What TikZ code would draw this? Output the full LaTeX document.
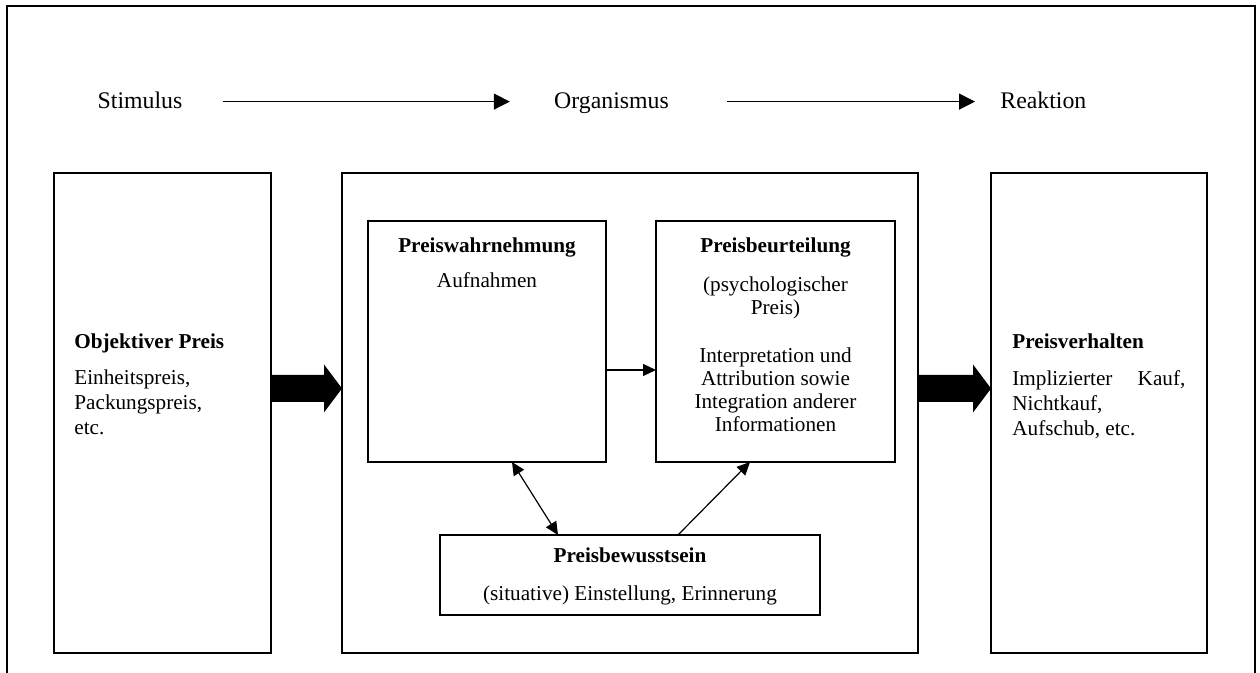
\documentclass[tikz,border=0pt]{standalone}
\usepackage{fontspec}
\setmainfont{Liberation Serif}
\usetikzlibrary{arrows.meta,calc}
\newcommand\bxfont{\fontsize{10.6pt}{12.5pt}\selectfont}
\newcommand\lblfont{\fontsize{11.9pt}{14pt}\selectfont}

\begin{document}
\begin{tikzpicture}[x=0.5pt,y=-0.5pt,
  outerframe/.style={line width=0.8pt},
  panel/.style={draw, line width=0.65pt, inner sep=0pt, outer sep=0pt},
  stagelbl/.style={font=\lblfont, inner sep=0pt, anchor=base},
  headtxt/.style={font=\bxfont\bfseries, inner sep=0pt, anchor=base},
  bodytxt/.style={font=\bxfont, inner sep=0pt, anchor=base},
  flow/.style={line width=0.65pt, -{Triangle[length=8pt,width=8pt]}},
  link/.style={line width=0.6pt, -{Triangle[length=6.5pt,width=6pt]}},
  twoway/.style={line width=0.6pt, {Triangle[length=6.5pt,width=6pt]}-{Triangle[length=6.5pt,width=6pt]}},
  blockarrow/.style={fill=black}]

\useasboundingbox (0,0) rectangle (1260,673);

% open outer frame
\draw[outerframe] (7,673) -- (7,6) -- (1255,6) -- (1255,673);

% stage labels and arrows
\node[stagelbl] (stim) at (140,109) {Stimulus};
\node[stagelbl] (org) at (611.5,109) {Organismus};
\node[stagelbl, anchor=base west] (reak) at (1000,109) {Reaktion};
\draw[flow, shorten <=20pt, shorten >=22pt] ([yshift=3.7pt]stim.base east) -- ([yshift=3.7pt]org.base west);
\draw[flow, shorten <=29pt, shorten >=12.5pt] ([yshift=3.7pt]org.base east) -- ([yshift=3.7pt]reak.base west);

% main panels
\node[panel, minimum width=108.5pt, minimum height=240pt] (lbox) at (162.5,413) {};
\node[panel, minimum width=288pt, minimum height=240pt] (mbox) at (630,413) {};
\node[panel, minimum width=108pt, minimum height=240pt] (rbox) at (1099,413) {};

% inner panels
\node[panel, minimum width=119pt, minimum height=120.5pt] (pw) at (487,341.5) {};
\node[panel, minimum width=119.5pt, minimum height=120.5pt] (pb) at (775.5,341.5) {};
\node[panel, minimum width=190pt, minimum height=40pt] (pbw) at (630,575) {};

% left panel text
\node[headtxt, anchor=base west] (objt) at (74,349) {Objektiver Preis};
\node[bodytxt, anchor=base west] (objb) at (74,385) {\parbox[t]{100pt}{\raggedright\fontsize{10.6pt}{12.5pt}\selectfont Einheitspreis,\\Packungspreis,\\etc.}};

% right panel text
\node[headtxt, anchor=base west] (verht) at (1012,349) {Preisverhalten};
\node[bodytxt, anchor=base west] (verhb) at (1012,386) {\parbox[t]{90pt}{\raggedright\fontsize{10.6pt}{12.5pt}\selectfont \makebox[86.5pt][s]{Implizierter Kauf,}\\Nichtkauf,\\Aufschub, etc.}};

% Preiswahrnehmung
\node[headtxt] (pwt) at (487,253) {Preiswahrnehmung};
\node[bodytxt] (pwb) at (487,288) {Aufnahmen};

% Preisbeurteilung
\node[headtxt] (pbt) at (775.5,253) {Preisbeurteilung};
\node[bodytxt] (pbb1) at (775.5,292) {\parbox[t]{118pt}{\centering\fontsize{10.6pt}{11.5pt}\selectfont (psychologischer\\Preis)}};
\node[bodytxt] (pbb2) at (775.5,363) {\parbox[t]{118pt}{\centering\fontsize{10.6pt}{11.4pt}\selectfont Interpretation und\\Attribution sowie\\Integration anderer\\Informationen}};

% Preisbewusstsein
\node[headtxt] (pbwt) at (630,563) {Preisbewusstsein};
\node[bodytxt] (pbwb) at (630,601) {(situative) Einstellung, Erinnerung};

% connectors inside the organism panel
\draw[link] ([yshift=-14.25pt]pw.east) -- ([yshift=-14.25pt]pb.west);
\draw[twoway] ([xshift=12.5pt]pw.south) -- ([xshift=-36pt]pbw.north);
\draw[link] ([xshift=24pt]pbw.north) -- ([xshift=-12.75pt]pb.south);

% block arrows between the panels
\coordinate (ba1) at ($(lbox.east)+(0,-24.5)$);
\coordinate (ba1t) at ($(mbox.west)+(0,-24.5)$);
\fill[blockarrow] (ba1) ++(0,-13.5) -- ++(53,0) -- ++(0,-10.5) -- (ba1t) -- ++(-18,24) -- ++(0,-10.5) -- ++(-53,0) -- cycle;

\coordinate (ba2) at ($(mbox.east)+(0,-24.5)$);
\coordinate (ba2t) at ($(rbox.west)+(0,-24.5)$);
\fill[blockarrow] (ba2) ++(0,-13.5) -- ++(55,0) -- ++(0,-10.5) -- (ba2t) -- ++(-18,24) -- ++(0,-10.5) -- ++(-55,0) -- cycle;

\end{tikzpicture}
\end{document}
